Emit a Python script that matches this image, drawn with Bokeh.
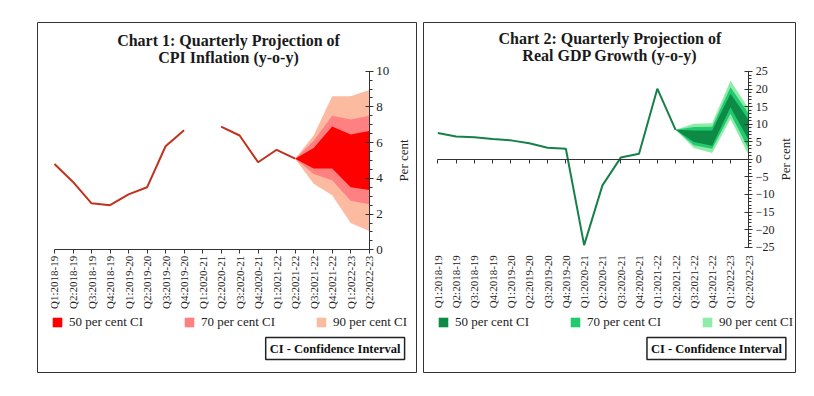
import math
from bokeh.plotting import figure
from bokeh.models import (Range1d, FixedTicker, SingleIntervalTicker, LinearAxis,
                          Label, Legend, LegendItem)
from bokeh.layouts import row
from bokeh.embed import file_html
from bokeh.resources import INLINE

quarters = ["Q1:2018-19", "Q2:2018-19", "Q3:2018-19", "Q4:2018-19",
            "Q1:2019-20", "Q2:2019-20", "Q3:2019-20", "Q4:2019-20",
            "Q1:2020-21", "Q2:2020-21", "Q3:2020-21", "Q4:2020-21",
            "Q1:2021-22", "Q2:2021-22", "Q3:2021-22", "Q4:2021-22",
            "Q1:2022-23", "Q2:2022-23"]

# Chart 1: CPI inflation (actual, None = not available)
cpi_actual = [4.8, 3.8, 2.6, 2.5, 3.1, 3.5, 5.8, 6.7, None, 6.9, 6.4, 4.9, 5.6, 5.1]
cpi_ci50_lo = [5.1, 4.55, 4.55, 3.5, 3.35]
cpi_ci50_hi = [5.1, 5.7, 6.9, 6.45, 6.65]
cpi_ci70_lo = [5.1, 4.25, 3.9, 2.75, 2.55]
cpi_ci70_hi = [5.1, 6.1, 7.5, 7.3, 7.5]
cpi_ci90_lo = [5.1, 3.7, 3.05, 1.5, 1.05]
cpi_ci90_hi = [5.1, 6.4, 8.6, 8.6, 8.95]

# Chart 2: Real GDP growth
gdp_actual = [7.5, 6.5, 6.3, 5.8, 5.4, 4.6, 3.3, 3.0, -24.4, -7.4, 0.5, 1.6, 20.1, 8.4]
gdp_ci50_lo = [8.4, 4.9, 3.9, 14.8, 5.4]
gdp_ci50_hi = [8.4, 8.2, 8.2, 18.7, 11.2]
gdp_ci70_lo = [8.4, 4.0, 3.0, 13.0, 2.8]
gdp_ci70_hi = [8.4, 9.2, 9.3, 20.5, 13.0]
gdp_ci90_lo = [8.4, 3.2, 1.8, 11.5, 1.1]
gdp_ci90_hi = [8.4, 10.1, 10.3, 22.4, 14.4]

ci_labels = ["50 per cent CI", "70 per cent CI", "90 per cent CI"]

FONT = "Liberation Serif"
TXT = "#222222"
AX = "#333333"


def make_chart(width, height, gap_left, gap_top, xr, yr, ybounds, tick_int, minor,
               actual, bands, colors, line_color, title_lines, title_xy, percent_xy,
               ci_xy, legend_loc, tick_font, zero_axis):
    n = len(quarters)
    p = figure(width=width, height=height, x_range=Range1d(*xr), y_range=Range1d(*yr),
               output_backend="svg", toolbar_location=None,
               x_axis_location=None, y_axis_location=None, min_border=0,
               min_border_left=gap_left, min_border_top=gap_top,
               min_border_right=0, min_border_bottom=0)
    p.grid.visible = False
    p.outline_line_color = AX
    p.outline_line_width = 1
    p.background_fill_color = "white"

    start = n - len(bands[0][0])
    xp = list(range(start, n))
    rends = []
    for (lo, hi), c in zip(bands[::-1], colors[::-1]):
        rends.append(p.varea(x=xp, y1=lo, y2=hi, fill_color=c))
    rends = rends[::-1]
    ys = [float("nan") if v is None else v for v in actual]
    p.line(x=list(range(len(ys))), y=ys, line_color=line_color, line_width=2)

    # y axis (right of the data area)
    ya = LinearAxis(fixed_location=n - 1, bounds=ybounds,
                    ticker=SingleIntervalTicker(interval=tick_int, num_minor_ticks=minor),
                    major_tick_in=4, major_tick_out=4, minor_tick_in=0, minor_tick_out=3,
                    major_label_standoff=3, major_label_text_font=FONT,
                    major_label_text_font_size=tick_font, major_label_text_color=TXT,
                    axis_line_color=AX, major_tick_line_color=AX, minor_tick_line_color=AX)
    p.add_layout(ya, "right")

    ticks = FixedTicker(ticks=list(range(n)))
    overrides = {i: q for i, q in enumerate(quarters)}
    if zero_axis:
        za = LinearAxis(fixed_location=0, bounds=(0, n - 1), ticker=ticks,
                        major_label_text_color=None, minor_tick_line_color=None,
                        major_tick_in=0, major_tick_out=4,
                        axis_line_color=AX, major_tick_line_color=AX)
        p.add_layout(za, "below")
        xa = LinearAxis(fixed_location=ybounds[0], bounds=(0, n - 1), ticker=ticks,
                        axis_line_color=None, major_tick_line_color=None,
                        minor_tick_line_color=None, major_tick_in=0, major_tick_out=0,
                        major_label_standoff=8)
    else:
        xa = LinearAxis(fixed_location=ybounds[0], bounds=(0, n - 1), ticker=ticks,
                        axis_line_color=AX, major_tick_line_color=AX,
                        minor_tick_line_color=None, major_tick_in=0, major_tick_out=4,
                        major_label_standoff=2)
    xa.major_label_overrides = overrides
    xa.major_label_orientation = math.pi / 2
    xa.major_label_text_font = FONT
    xa.major_label_text_font_size = "11px"
    xa.major_label_text_color = TXT
    p.add_layout(xa, "below")

    # titles
    for t, y in zip(title_lines, title_xy[1]):
        p.add_layout(Label(x=title_xy[0], y=y, text=t, text_align="center",
                           text_baseline="middle", text_font=FONT, text_font_style="bold",
                           text_font_size="16px", text_color="#1a1a1a"))
    p.add_layout(Label(x=percent_xy[0], y=percent_xy[1], text="Per cent", angle=math.pi / 2,
                       text_align="center", text_baseline="middle", text_font=FONT,
                       text_font_size="13px", text_color=TXT))
    p.add_layout(Label(x=ci_xy[0], y=ci_xy[1], text="CI - Confidence Interval",
                       text_align="center", text_baseline="middle", text_font=FONT,
                       text_font_style="bold", text_font_size="12.5px", text_color="#111111",
                       border_line_color="#222222", border_line_width=1.5,
                       background_fill_color="white", padding=4))

    legend = Legend(items=[LegendItem(label=l, renderers=[r]) for l, r in zip(ci_labels, rends)],
                    orientation="horizontal", location=legend_loc, spacing=40, padding=0,
                    margin=0, border_line_color=None, background_fill_alpha=0,
                    glyph_width=12, glyph_height=12, label_height=12, label_standoff=6,
                    label_text_font=FONT, label_text_font_size="13px", label_text_color=TXT)
    p.add_layout(legend)
    return p


p1 = make_chart(417, 373, 37, 22, (-0.918, 19.609), (-6.926, 12.727), (0, 10), 2, 4,
                cpi_actual,
                [(cpi_ci50_lo, cpi_ci50_hi), (cpi_ci70_lo, cpi_ci70_hi), (cpi_ci90_lo, cpi_ci90_hi)],
                ["#FF0000", "#FF8080", "#FCBBA1"], "#C0321E",
                ["Chart 1: Quarterly Projection of", "CPI Inflation (y-o-y)"],
                (9.40, (11.72, 10.78)), (18.85, 5.0), (15.16, -5.53), (14, 43),
                "13px", False)

p2 = make_chart(379, 373, 6, 22, (-0.782, 19.608), (-60.94, 38.94), (-25, 25), 5, 5,
                gdp_actual,
                [(gdp_ci50_lo, gdp_ci50_hi), (gdp_ci70_lo, gdp_ci70_hi), (gdp_ci90_lo, gdp_ci90_hi)],
                ["#0E8A47", "#22C96F", "#8EEBA8"], "#17804A",
                ["Chart 2: Quarterly Projection of", "Real GDP Growth (y-o-y)"],
                (9.41, (34.3, 29.55)), (19.03, 0.0), (15.23, -53.83), (14, 43),
                "12px", True)

layout = row(p1, p2)

with open("out.html", "w") as f:
    f.write(file_html(layout, INLINE))
